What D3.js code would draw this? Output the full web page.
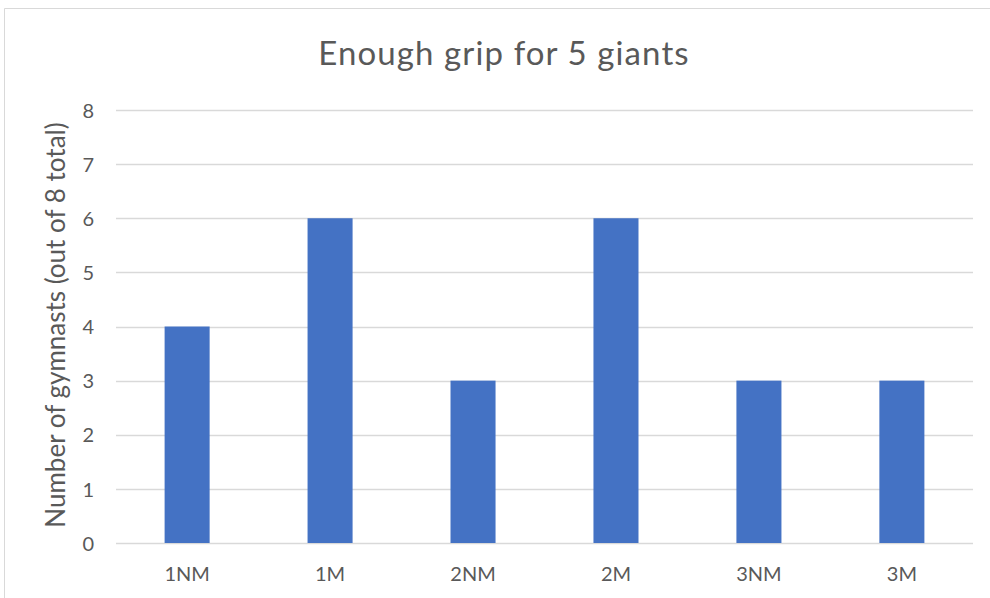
<!DOCTYPE html>
<html>
<head>
<meta charset="utf-8">
<script src="https://cdn.jsdelivr.net/npm/d3@7"></script>
<style>
  html, body { margin: 0; padding: 0; background: #fff; }
  svg { display: block; }
  text { font-family: Lato, "Open Sans", sans-serif; fill: #595959; }
</style>
</head>
<body>
<svg id="chart" width="990" height="598"></svg>
<script>
// Grip test results per group
const categories = ["1NM", "1M", "2NM", "2M", "3NM", "3M"];
const values = [4, 6, 3, 6, 3, 3];
const yTicks = [0, 1, 2, 3, 4, 5, 6, 7, 8];
const titleText = "Enough grip for 5 giants";
const yTitle = "Number of gymnasts (out of 8 total)";

const svg = d3.select("#chart");
const W = 990, H = 598;

// chart frame
svg.append("path")
  .attr("d", `M4.5,${H} V8.5 H${W}`)
  .attr("fill", "none")
  .attr("stroke", "#d9d9d9")
  .attr("stroke-width", 1);

const plot = { left: 116, right: 973, top: 110, bottom: 543 };

const x = d3.scaleBand()
  .domain(categories)
  .range([plot.left, plot.right])
  .paddingInner(0.685)
  .paddingOuter(0.34);

const y = d3.scaleLinear()
  .domain([0, 8])
  .range([plot.bottom, plot.top]);

// gridlines
svg.append("g")
  .selectAll("line")
  .data(yTicks)
  .join("line")
  .attr("x1", plot.left)
  .attr("x2", plot.right)
  .attr("y1", d => Math.round(y(d)) + 0.5)
  .attr("y2", d => Math.round(y(d)) + 0.5)
  .attr("stroke", "#d9d9d9")
  .attr("stroke-width", 1.3);

// bars
svg.append("g")
  .selectAll("rect")
  .data(values)
  .join("rect")
  .attr("x", (d, i) => x(categories[i]))
  .attr("width", x.bandwidth())
  .attr("y", d => y(d))
  .attr("height", d => y(0) - y(d))
  .attr("fill", "#4472C4");

// y tick labels
const yAxis = d3.axisLeft(y).tickValues(yTicks).tickSize(0).tickPadding(0);
const gy = svg.append("g").attr("transform", `translate(${plot.left - 22},0)`).call(yAxis);
gy.select(".domain").remove();
gy.selectAll("text")
  .attr("font-size", 20)
  .attr("font-family", "Lato, 'Open Sans', sans-serif")
  .attr("fill", "#595959")
  .attr("dy", "0.36em");

// x tick labels
const xAxis = d3.axisBottom(x).tickSize(0).tickPadding(0);
const gx = svg.append("g").attr("transform", `translate(0,${plot.bottom + 24})`).call(xAxis);
gx.select(".domain").remove();
gx.selectAll("text")
  .attr("font-size", 20)
  .attr("font-family", "Lato, 'Open Sans', sans-serif")
  .attr("fill", "#595959")
  .attr("dy", "0.71em");

// title
svg.append("text")
  .attr("x", 504)
  .attr("y", 65)
  .attr("text-anchor", "middle")
  .attr("font-size", 33)
  .attr("letter-spacing", 1.1)
  .text(titleText);

// y axis title
svg.append("text")
  .attr("transform", `translate(65,325) rotate(-90)`)
  .attr("text-anchor", "middle")
  .attr("font-size", 26)
  .text(yTitle);
</script>
</body>
</html>
